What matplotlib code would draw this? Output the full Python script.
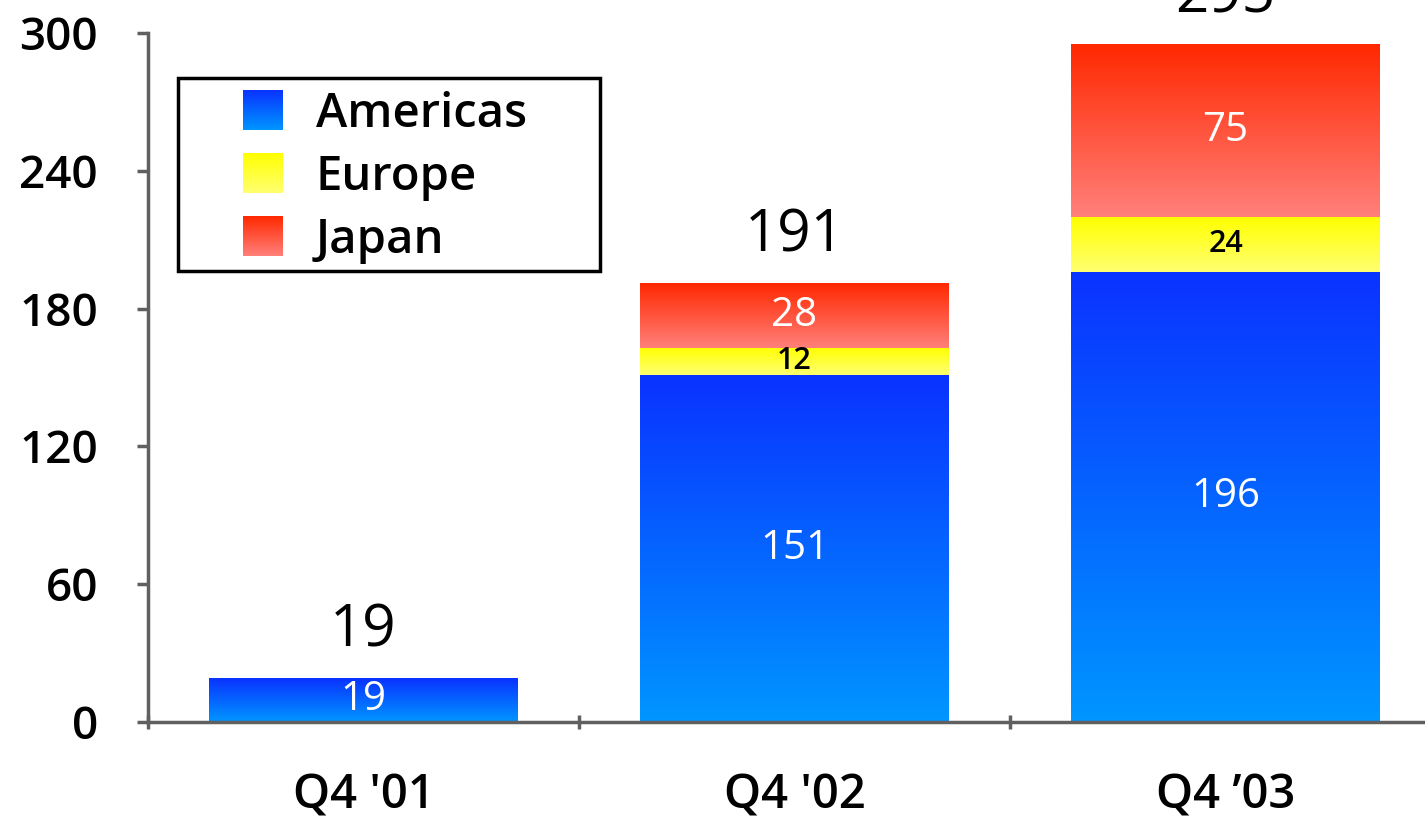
import numpy as np
import matplotlib
matplotlib.use('Agg')
import matplotlib.pyplot as plt
from matplotlib.colors import LinearSegmentedColormap
from matplotlib.patches import Rectangle

# data
quarters = ["Q4 '01", "Q4 '02", "Q4 \u201903"]
americas = [19, 151, 196]
europe = [0, 12, 24]
japan = [0, 28, 75]
totals = [19, 191, 295]
series_names = ["Americas", "Europe", "Japan"]

# gradient colours: (bottom, top)
grads = {
    "Americas": ("#0096ff", "#0a32ff"),
    "Europe": ("#ffff70", "#ffff00"),
    "Japan": ("#ff807a", "#ff2800"),
}
label_style = {
    "Americas": dict(color="white", fontsize=29, fontweight="normal"),
    "Europe": dict(color="black", fontsize=22, fontweight="semibold"),
    "Japan": dict(color="white", fontsize=29, fontweight="normal"),
}

plt.rcParams['font.family'] = ['Open Sans', 'DejaVu Sans']

W, H = 1425, 817
fig = plt.figure(figsize=(W / 100, H / 100), dpi=100)
ax = fig.add_axes([148 / W, (H - 722) / H, (1441 - 148) / W, (722 - 33) / H])

x = np.arange(len(quarters))
width = 0.715
grad = np.linspace(0, 1, 256).reshape(-1, 1)


def gradient_fill(axis, x0, x1, y0, y1, name, **kw):
    c0, c1 = grads[name]
    cmap = LinearSegmentedColormap.from_list(name, [c0, c1])
    axis.imshow(grad, cmap=cmap, origin='lower', aspect='auto', interpolation='bilinear',
                extent=[x0, x1, y0, y1], **kw)


bottoms = np.zeros(len(quarters))
for name, vals in zip(series_names, [americas, europe, japan]):
    for i, v in enumerate(vals):
        if v <= 0:
            continue
        gradient_fill(ax, x[i] - width / 2, x[i] + width / 2, bottoms[i], bottoms[i] + v, name, zorder=2)
        ax.text(x[i], bottoms[i] + v / 2, str(v), ha='center', va='center', zorder=3,
                **label_style[name])
    bottoms += np.array(vals)

for i, t in enumerate(totals):
    ax.annotate(str(t), (x[i], t), xytext=(0, 13), textcoords='offset points',
                ha='center', va='bottom', fontsize=42, fontweight='medium', annotation_clip=False)

ax.set_xlim(-0.5, len(quarters) - 0.5)
ax.set_ylim(0, 300)
yt = np.arange(0, 301, 60)
ax.set_yticks(yt, labels=[str(v) for v in yt], fontsize=33, fontweight='semibold')
ax.set_xticks(x, labels=quarters, fontsize=34, fontweight='semibold')
ax.set_xticks(np.arange(-0.5, len(quarters), 1), minor=True)
ax.tick_params(axis='x', which='major', length=0, pad=36)
ax.tick_params(axis='x', which='minor', length=10, width=2.5, color='#606060', direction='inout')
ax.tick_params(axis='y', length=8, width=2.5, color='#606060', pad=28)
for s in ['top', 'right']:
    ax.spines[s].set_visible(False)
for s in ['left', 'bottom']:
    ax.spines[s].set_color('#606060')
    ax.spines[s].set_linewidth(2.5)
ax.set_facecolor('none')

# legend box drawn in figure pixels
lax = fig.add_axes([0, 0, 1, 1], zorder=5)
lax.set_xlim(0, W)
lax.set_ylim(H, 0)
lax.axis('off')
lax.add_patch(Rectangle((178, 78), 422, 193, facecolor='white', edgecolor='black', linewidth=2.5))
row_y = [110, 173, 236]
for name, yc in zip(series_names, row_y):
    gradient_fill(lax, 243, 283, yc + 20, yc - 20, name, zorder=6)
    lax.text(316, yc + 4, name, ha='left', va='center', fontsize=34, fontweight='semibold', zorder=6)
lax.set_xlim(0, W)
lax.set_ylim(H, 0)

fig.savefig('out.png', dpi=100)
